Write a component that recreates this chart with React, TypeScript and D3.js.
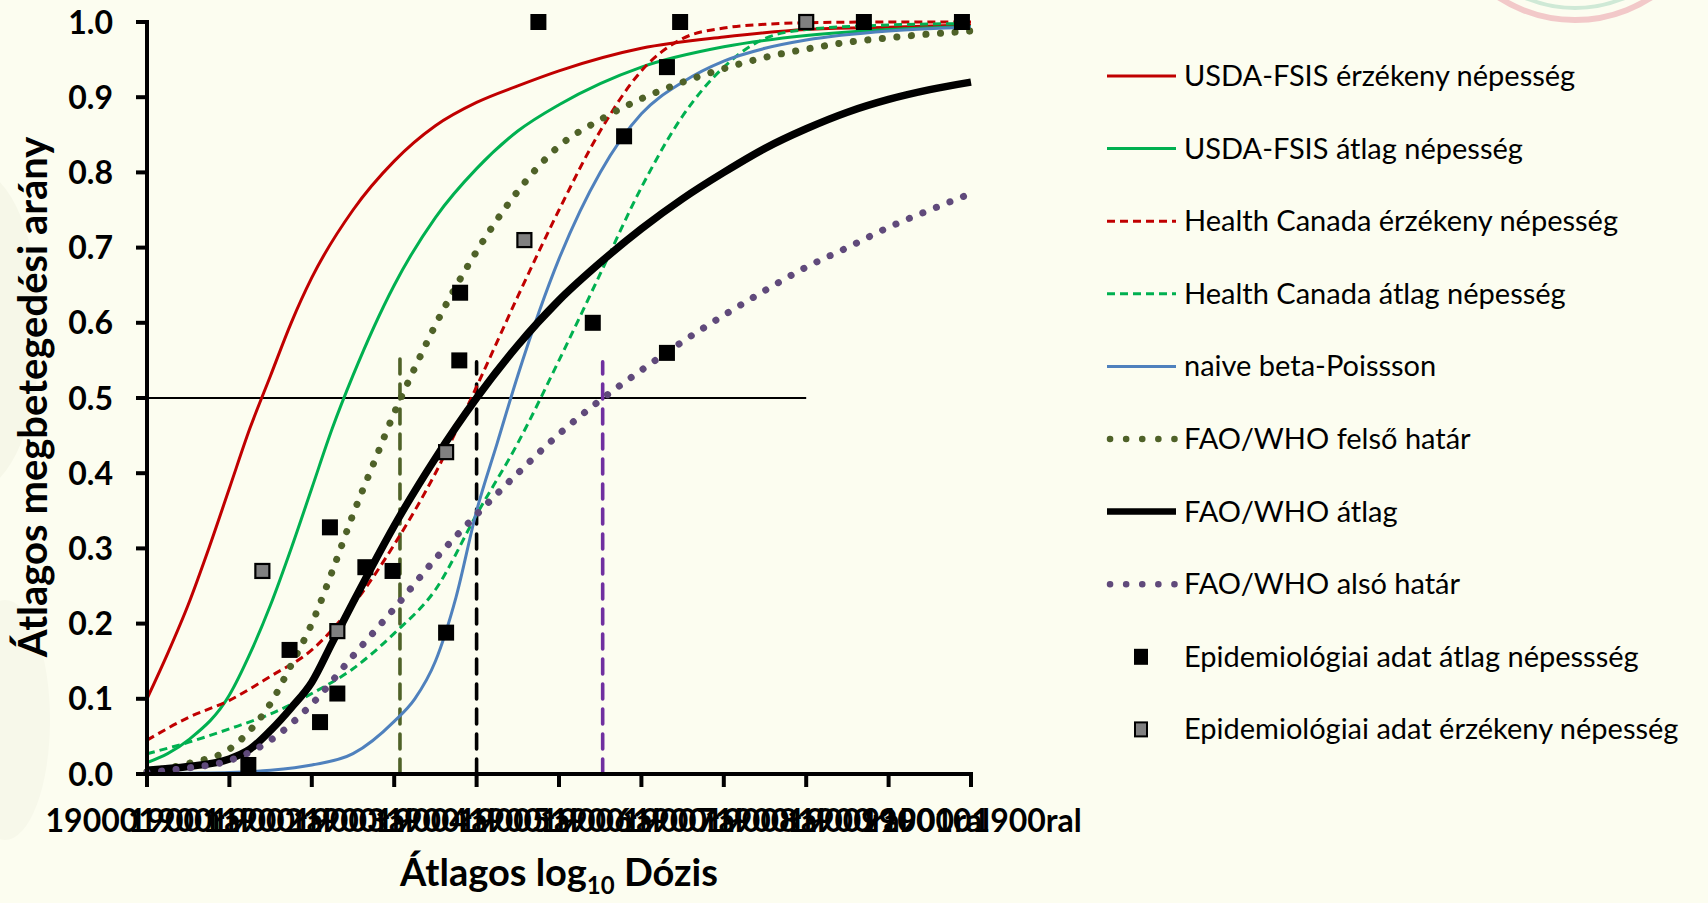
import React from "react";
import * as d3 from "d3";

// ---- data ----
const xTicks = [0, 1, 2, 3, 4, 5, 6, 7, 8, 9, 10];
const xTickLabels = xTicks.map((k) => `1900${k}1900ral`);
const yTicks = [0, 0.1, 0.2, 0.3, 0.4, 0.5, 0.6, 0.7, 0.8, 0.9, 1.0];

type Pt = [number, number];

const usdaSensitive: Pt[] = [
  [0, 0.1], [0.25, 0.16], [0.5, 0.225], [0.75, 0.3], [1, 0.38], [1.25, 0.46], [1.5, 0.53],
  [1.75, 0.6], [2, 0.66], [2.5, 0.75], [3, 0.815], [3.5, 0.862], [4, 0.893], [4.5, 0.915],
  [5, 0.935], [6, 0.965], [7, 0.98], [8, 0.99], [9, 0.993], [10, 0.996],
];
const usdaAverage: Pt[] = [
  [0, 0.015], [0.5, 0.045], [1, 0.105], [1.25, 0.16], [1.5, 0.225], [1.75, 0.3], [2, 0.38],
  [2.25, 0.46], [2.5, 0.53], [3, 0.65], [3.5, 0.74], [4, 0.805], [4.5, 0.855], [5, 0.89],
  [5.5, 0.918], [6, 0.94], [7, 0.967], [8, 0.982], [9, 0.99], [10, 0.994],
];
const hcSensitive: Pt[] = [
  [0, 0.045], [0.5, 0.075], [1, 0.098], [1.5, 0.13], [2, 0.165], [2.5, 0.225], [3, 0.305],
  [3.5, 0.4], [4, 0.515], [4.5, 0.635], [5, 0.75], [5.5, 0.855], [6, 0.935], [6.5, 0.978],
  [7, 0.992], [7.5, 0.997], [8, 0.999], [9, 1.0], [10, 1.0],
];
const hcAverage: Pt[] = [
  [0, 0.027], [0.5, 0.042], [1, 0.06], [1.5, 0.08], [2, 0.107], [2.5, 0.14], [3, 0.187],
  [3.5, 0.245], [4, 0.345], [4.5, 0.44], [5, 0.55], [5.5, 0.665], [6, 0.78], [6.5, 0.875],
  [7, 0.94], [7.5, 0.978], [8, 0.99], [9, 0.996], [10, 0.998],
];
const naiveBetaPoisson: Pt[] = [
  [0, 0.0], [0.5, 0.001], [1, 0.002], [1.5, 0.005], [2, 0.012], [2.5, 0.027], [3, 0.07],
  [3.25, 0.1], [3.5, 0.15], [3.75, 0.235], [4, 0.35], [4.25, 0.44], [4.5, 0.53], [5, 0.685],
  [5.5, 0.8], [6, 0.878], [6.5, 0.92], [7, 0.948], [7.5, 0.965], [8, 0.976], [9, 0.988],
  [10, 0.993],
];
const faoUpper: Pt[] = [
  [0, 0.003], [0.5, 0.014], [1, 0.033], [1.25, 0.058], [1.5, 0.094], [1.75, 0.145], [2, 0.2],
  [2.25, 0.27], [2.5, 0.345], [2.75, 0.413], [3, 0.48], [3.25, 0.54], [3.5, 0.597], [4, 0.695],
  [4.5, 0.775], [5, 0.835], [5.5, 0.87], [6, 0.898], [6.5, 0.92], [7, 0.938], [7.5, 0.953],
  [8, 0.964], [8.5, 0.973], [9, 0.979], [9.5, 0.984], [10, 0.988],
];
const faoMean: Pt[] = [
  [0, 0.005], [0.5, 0.01], [1, 0.02], [1.25, 0.033], [1.5, 0.058], [1.75, 0.088], [2, 0.122],
  [2.25, 0.175], [2.5, 0.228], [2.75, 0.28], [3, 0.33], [3.5, 0.42], [4, 0.5], [4.5, 0.57],
  [5, 0.63], [5.5, 0.68], [6, 0.725], [6.5, 0.765], [7, 0.8], [7.5, 0.832], [8, 0.858],
  [8.5, 0.88], [9, 0.897], [9.5, 0.91], [10, 0.92],
];
const faoLower: Pt[] = [
  [0, 0.002], [0.5, 0.008], [1, 0.018], [1.5, 0.045], [2, 0.093], [2.5, 0.157], [3, 0.22],
  [3.5, 0.286], [4, 0.345], [4.5, 0.4], [5, 0.452], [5.5, 0.497], [6, 0.537], [6.5, 0.575],
  [7, 0.61], [7.5, 0.643], [8, 0.674], [8.5, 0.7], [9, 0.727], [9.5, 0.75], [10, 0.772],
];

// epidemiological data
const epiAverage: Pt[] = [
  [1.23, 0.012], [1.73, 0.165], [2.1, 0.069], [2.22, 0.328], [2.31, 0.107], [2.65, 0.275],
  [2.98, 0.27], [3.63, 0.188], [3.79, 0.55], [3.8, 0.64], [4.75, 1.0], [5.41, 0.6],
  [5.79, 0.848], [6.31, 0.94], [6.47, 1.0], [6.31, 0.56], [8.7, 1.0], [9.89, 1.0],
];
const epiSensitive: Pt[] = [
  [1.4, 0.27], [2.31, 0.19], [3.63, 0.428], [4.58, 0.71], [8.0, 1.0],
];

// reference lines: ID50 drops and 50% level
const id50Lines = [
  { x: 3.07, top: 0.553, color: "#4F6228" },
  { x: 4.0, top: 0.548, color: "#000000" },
  { x: 5.53, top: 0.548, color: "#7030A0" },
];
const halfLevel = { y: 0.5, from: 0, to: 8 };

interface Series {
  name: string;
  data: Pt[];
  color: string;
  width: number;
  dash?: string;
  dotted?: boolean;
}

const series: Series[] = [
  { name: "USDA-FSIS érzékeny népesség", data: usdaSensitive, color: "#C00000", width: 3 },
  { name: "USDA-FSIS átlag népesség", data: usdaAverage, color: "#00B050", width: 3 },
  { name: "Health Canada érzékeny népesség", data: hcSensitive, color: "#C00000", width: 3, dash: "8 5" },
  { name: "Health Canada átlag népesség", data: hcAverage, color: "#00B050", width: 3, dash: "8 5" },
  { name: "naive beta-Poissson", data: naiveBetaPoisson, color: "#4F81BD", width: 3 },
  { name: "FAO/WHO felső határ", data: faoUpper, color: "#4F6228", width: 7, dotted: true },
  { name: "FAO/WHO átlag", data: faoMean, color: "#000000", width: 7.5 },
  { name: "FAO/WHO alsó határ", data: faoLower, color: "#604A7B", width: 7, dotted: true },
];

const W = 1708;
const H = 903;
const plot = { left: 147, right: 971, top: 22, bottom: 774 };
const FONT = "Lato, 'Open Sans', sans-serif";

export default function App() {
  const x = d3.scaleLinear().domain([0, 10]).range([plot.left, plot.right]);
  const y = d3.scaleLinear().domain([0, 1]).range([plot.bottom, plot.top]);
  const line = d3
    .line<Pt>()
    .x((d) => x(d[0]))
    .y((d) => y(d[1]))
    .curve(d3.curveMonotoneX);

  const legendX0 = 1107;
  const legendX1 = 1176;
  const legendY = (i: number) => 76 + i * 72.6;

  return (
    <div style={{ position: "fixed", left: 0, top: 0, width: W, height: H }}>
      <svg width={W} height={H} style={{ display: "block" }} fontFamily={FONT}>
        <rect width={W} height={H} fill="#FCFDF0" />
        {/* faint watermark decoration */}
        <ellipse cx={-25} cy={330} rx={65} ry={160} fill="#F6F7E8" />
        <ellipse cx={5} cy={720} rx={45} ry={120} fill="#F7F8EA" />
        <circle cx={1575} cy={-120} r={140} fill="none" stroke="#F2C9C9" strokeWidth={6} />
        <circle cx={1575} cy={-120} r={128} fill="none" stroke="#CFE9D6" strokeWidth={4} />

        {/* 50% level */}
        <line
          x1={x(halfLevel.from)}
          x2={x(halfLevel.to)}
          y1={y(halfLevel.y)}
          y2={y(halfLevel.y)}
          stroke="#000"
          strokeWidth={2}
        />
        {id50Lines.map((l, i) => (
          <line
            key={i}
            x1={x(l.x)}
            x2={x(l.x)}
            y1={y(0)}
            y2={y(l.top)}
            stroke={l.color}
            strokeWidth={3.6}
            strokeDasharray="15 10"
            strokeLinecap="round"
          />
        ))}

        {/* curves */}
        {series.map((s) => (
          <path
            key={s.name}
            d={line(s.data) || ""}
            fill="none"
            stroke={s.color}
            strokeWidth={s.width}
            strokeDasharray={s.dotted ? "0.1 14.5" : s.dash}
            strokeLinecap={s.dotted ? "round" : "butt"}
            strokeLinejoin="round"
          />
        ))}

        {/* epidemiological points */}
        {epiAverage.map((d, i) => (
          <rect key={"a" + i} x={x(d[0]) - 8} y={y(d[1]) - 8} width={16} height={16} fill="#000" />
        ))}
        {epiSensitive.map((d, i) => (
          <rect
            key={"s" + i}
            x={x(d[0]) - 7}
            y={y(d[1]) - 7}
            width={14}
            height={14}
            fill="#808080"
            stroke="#000"
            strokeWidth={2.2}
          />
        ))}

        {/* axes */}
        <line x1={plot.left} x2={plot.left} y1={plot.top - 2} y2={plot.bottom + 2} stroke="#000" strokeWidth={4} />
        <line x1={plot.left - 2} x2={plot.right + 2} y1={plot.bottom} y2={plot.bottom} stroke="#000" strokeWidth={4} />
        {yTicks.map((t) => (
          <g key={t}>
            <line x1={plot.left - 11} x2={plot.left} y1={y(t)} y2={y(t)} stroke="#000" strokeWidth={4} />
            <text
              x={113}
              y={y(t) + 11.5}
              textAnchor="end"
              fontSize={32}
              fontWeight="bold"
              fill="#000"
            >
              {t.toFixed(1)}
            </text>
          </g>
        ))}
        {xTicks.map((t, i) => (
          <g key={t}>
            <line x1={x(t)} x2={x(t)} y1={plot.bottom} y2={plot.bottom + 13} stroke="#000" strokeWidth={4} />
            <text x={x(t)} y={832} textAnchor="middle" fontSize={32} fontWeight="bold" fill="#000">
              {xTickLabels[i]}
            </text>
          </g>
        ))}

        {/* axis titles */}
        <text x={559} y={886} textAnchor="middle" fontSize={38} fontWeight="bold" fill="#000">
          Átlagos log
          <tspan fontSize={24} dy={8}>10</tspan>
          <tspan dy={-8}> Dózis</tspan>
        </text>
        <text
          transform={`translate(47,397) rotate(-90)`}
          textAnchor="middle"
          fontSize={40}
          fontWeight="bold"
          fill="#000"
        >
          Átlagos megbetegedési arány
        </text>

        {/* legend */}
        {series.map((s, i) => (
          <g key={"lg" + i}>
            <line
              x1={s.dotted ? legendX0 + 3 : legendX0}
              x2={legendX1}
              y1={legendY(i)}
              y2={legendY(i)}
              stroke={s.color}
              strokeWidth={s.dotted ? 6.5 : s.width > 7 ? 6.5 : 3}
              strokeDasharray={s.dotted ? "0.1 16" : s.dash}
              strokeLinecap={s.dotted ? "round" : "butt"}
            />
            <text x={1184} y={legendY(i) + 10} fontSize={29} fill="#000">
              {s.name}
            </text>
          </g>
        ))}
        <rect x={1134} y={legendY(8) - 8} width={14} height={16} fill="#000" />
        <text x={1184} y={legendY(8) + 10} fontSize={29} fill="#000">
          Epidemiológiai adat átlag népessség
        </text>
        <rect
          x={1135}
          y={legendY(9) - 7}
          width={12}
          height={14}
          fill="#808080"
          stroke="#000"
          strokeWidth={2}
        />
        <text x={1184} y={legendY(9) + 10} fontSize={29} fill="#000">
          Epidemiológiai adat érzékeny népesség
        </text>
      </svg>
    </div>
  );
}
